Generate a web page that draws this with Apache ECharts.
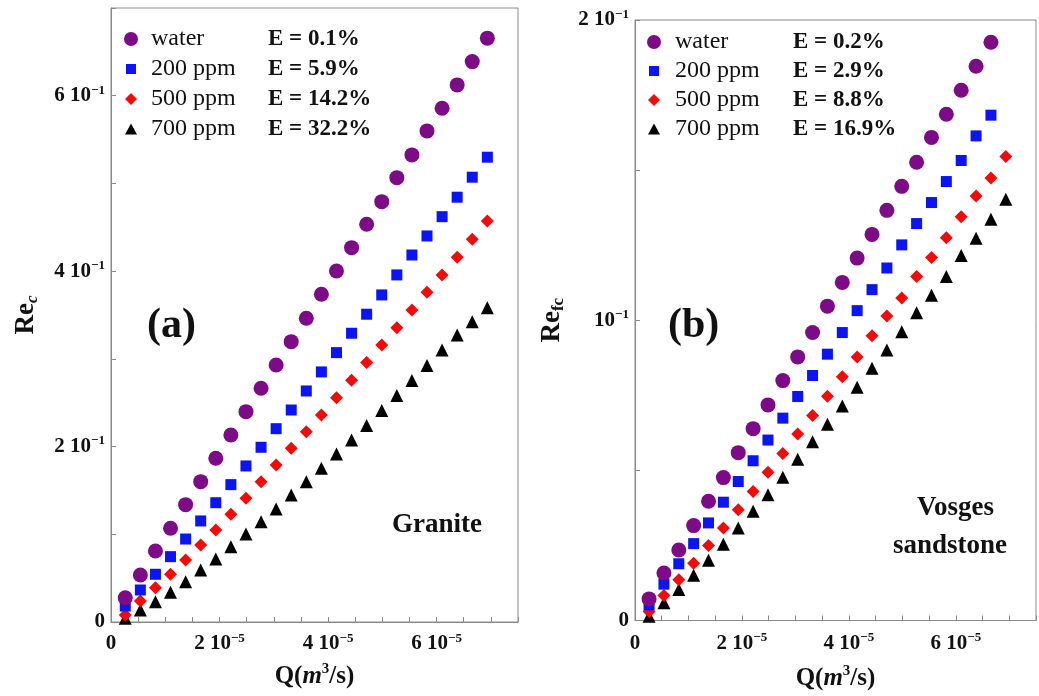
<!DOCTYPE html>
<html>
<head>
<meta charset="utf-8">
<script src="https://cdn.jsdelivr.net/npm/echarts@6/dist/echarts.min.js"></script>
<style>html,body{margin:0;padding:0;background:#fff}#c{width:1039px;height:696px}</style>
</head>
<body>
<div id="c"></div>
<script>
// Flow rate Q (m^3/s)
const Q = [2.63e-6, 5.41e-6, 8.19e-6, 1.097e-5, 1.375e-5, 1.653e-5, 1.931e-5, 2.209e-5, 2.487e-5, 2.765e-5,
  3.043e-5, 3.321e-5, 3.599e-5, 3.877e-5, 4.155e-5, 4.433e-5, 4.711e-5, 4.989e-5, 5.267e-5, 5.545e-5,
  5.823e-5, 6.101e-5, 6.379e-5, 6.657e-5, 6.935e-5];

const seriesNames = ['water', '200 ppm', '500 ppm', '700 ppm'];
const effA = ['E = 0.1%', 'E = 5.9%', 'E = 14.2%', 'E = 32.2%'];
const effB = ['E = 0.2%', 'E = 2.9%', 'E = 8.8%', 'E = 16.9%'];

// (a) Granite, Re_c
const waterA = [0.0277, 0.0536, 0.0810, 0.1068, 0.1338, 0.1600, 0.1867, 0.2132, 0.2398, 0.2665, 0.2930, 0.3196,
  0.3463, 0.3737, 0.4002, 0.4268, 0.4535, 0.4792, 0.5066, 0.5325, 0.5599, 0.5857, 0.6123, 0.6389, 0.6656];
const ppm200A = [0.0182, 0.0365, 0.0544, 0.0745, 0.0946, 0.1152, 0.1360, 0.1566, 0.1779, 0.1992, 0.2204, 0.2417,
  0.2634, 0.2851, 0.3071, 0.3292, 0.3509, 0.3729, 0.3957, 0.4184, 0.4401, 0.4621, 0.4843, 0.5071, 0.5299];
const ppm500A = [0.0080, 0.0239, 0.0391, 0.0544, 0.0707, 0.0878, 0.1049, 0.1228, 0.1411, 0.1600, 0.1790, 0.1981,
  0.2170, 0.2360, 0.2558, 0.2757, 0.2959, 0.3159, 0.3356, 0.3558, 0.3759, 0.3957, 0.4159, 0.4364, 0.4572];
const ppm700A = [0.0042, 0.0137, 0.0231, 0.0339, 0.0460, 0.0593, 0.0718, 0.0859, 0.1003, 0.1144, 0.1288, 0.1448,
  0.1600, 0.1753, 0.1916, 0.2075, 0.2241, 0.2412, 0.2583, 0.2754, 0.2925, 0.3101, 0.3273, 0.3424, 0.3584];

// (b) Vosges sandstone, Re_fc
const waterB = [0.0072, 0.0158, 0.0235, 0.0316, 0.0397, 0.0476, 0.0559, 0.0639, 0.0718, 0.0799, 0.0878, 0.0959,
  0.1047, 0.1126, 0.1207, 0.1286, 0.1366, 0.1446, 0.1526, 0.1609, 0.1686, 0.1766, 0.1846, 0.1926];
const ppm200B = [0.0052, 0.0121, 0.0189, 0.0256, 0.0325, 0.0394, 0.0463, 0.0532, 0.0601, 0.0674, 0.0746, 0.0816,
  0.0887, 0.0959, 0.1032, 0.1102, 0.1174, 0.1251, 0.1322, 0.1392, 0.1462, 0.1532, 0.1614, 0.1683];
const ppm500B = [0.0030, 0.0083, 0.0136, 0.0191, 0.0250, 0.0308, 0.0369, 0.0430, 0.0494, 0.0556, 0.0621, 0.0683,
  0.0747, 0.0812, 0.0878, 0.0948, 0.1014, 0.1074, 0.1146, 0.1209, 0.1275, 0.1345, 0.1414, 0.1474, 0.1545];
const ppm700B = [0.0014, 0.0059, 0.0103, 0.0151, 0.0201, 0.0254, 0.0308, 0.0364, 0.0419, 0.0477, 0.0537, 0.0595,
  0.0654, 0.0714, 0.0777, 0.0840, 0.0901, 0.0962, 0.1025, 0.1083, 0.1146, 0.1216, 0.1273, 0.1336, 0.1403];

// tick labels
const xTickVals = [0, 2e-5, 4e-5, 6e-5];
const xTickText = ['0', '2 10', '4 10', '6 10'];
const xTickExp = ['', '−5', '−5', '−5'];
const yTickValsA = [0, 0.2, 0.4, 0.6];
const yTickTextA = ['0', '2 10', '4 10', '6 10'];
const yTickExpA = ['', '−1', '−1', '−1'];
const yTickValsB = [0, 0.1, 0.2];
const yTickTextB = ['0', '10', '2 10'];
const yTickExpB = ['', '−1', '−1'];

const colors = ['#7d0a86', '#0a14f5', '#f50a0a', '#000000'];
const symbols = ['circle', 'rect', 'diamond', 'triangle'];
const sizes = [15, 11, 13, 13];
// legend icons (padded inside a 14x14 box so the glyphs get their own sizes)
const legendIcons = ['circle',
  'path://M0 0M14 14M2 2L12 2L12 12L2 12Z',
  'path://M0 0M14 14M7 1L13 7L7 13L1 7Z',
  'path://M0 0M14 14M7 1.5L13 12.5L1 12.5Z'];

const FONT = '"Liberation Serif", "Times New Roman", serif';
const richLab = {
  n: {fontFamily: FONT, fontWeight: 'bold', fontSize: 21, color: '#111', lineHeight: 24},
  s: {fontFamily: FONT, fontWeight: 'bold', fontSize: 13, color: '#111', lineHeight: 12, verticalAlign: 'top'}
};
function makeLab(vals, texts, exps, tol) {
  return function (v) {
    for (let i = 0; i < vals.length; i++) {
      if (Math.abs(v - vals[i]) < tol) {
        return exps[i] ? '{n|' + texts[i] + '}{s|' + exps[i] + '}' : '{n|' + texts[i] + '}';
      }
    }
    return '';
  };
}
const xLab = makeLab(xTickVals, xTickText, xTickExp, 1e-8);
const yLabA = makeLab(yTickValsA, yTickTextA, yTickExpA, 1e-6);
const yLabB = makeLab(yTickValsB, yTickTextB, yTickExpB, 1e-6);

const axisCommon = {
  axisLine: {show: true, lineStyle: {color: '#8a8a8a', width: 1}},
  axisTick: {show: true, inside: true, length: 5, lineStyle: {color: '#8a8a8a'}},
  splitLine: {show: false},
  axisLabel: {rich: richLab, color: '#111', showMinLabel: true, showMaxLabel: true}
};

function mk(vals, idx, gi) {
  return {
    name: seriesNames[idx], type: 'scatter', xAxisIndex: gi, yAxisIndex: gi,
    symbol: symbols[idx], symbolSize: sizes[idx],
    itemStyle: {color: colors[idx], opacity: 1},
    data: vals.map((v, i) => [Q[i], v]), z: 10 - idx
  };
}

const xName = '{b|Q(}{i|m}{s|3}{b|/s)}';
const xNameRich = {
  b: {fontFamily: FONT, fontWeight: 'bold', fontSize: 25, color: '#111', lineHeight: 30},
  i: {fontFamily: FONT, fontWeight: 'bold', fontStyle: 'italic', fontSize: 25, color: '#111', lineHeight: 30},
  s: {fontFamily: FONT, fontWeight: 'bold', fontSize: 15, color: '#111', lineHeight: 14, verticalAlign: 'top'}
};
const yNameRich = {
  r: {fontFamily: FONT, fontWeight: 'bold', fontSize: 27, color: '#111', lineHeight: 30},
  c: {fontFamily: FONT, fontWeight: 'bold', fontStyle: 'italic', fontSize: 17, color: '#111', lineHeight: 14, verticalAlign: 'bottom'},
  f: {fontFamily: FONT, fontWeight: 'bold', fontSize: 17, color: '#111', lineHeight: 14, verticalAlign: 'bottom'}
};

function legendRich(p, w) {
  return {
    p: {width: p},
    n: {fontFamily: FONT, fontSize: 24, color: '#111', width: w, lineHeight: 26},
    e: {fontFamily: FONT, fontWeight: 'bold', fontSize: 23, color: '#111', lineHeight: 26}
  };
}
const legendData = seriesNames.map((n, i) => ({name: n, icon: legendIcons[i]}));

const option = {
  backgroundColor: '#fff',
  animation: false,
  grid: [
    {left: 111, top: 8, width: 407, height: 614, show: true, borderColor: '#8a8a8a', borderWidth: 1, backgroundColor: 'transparent'},
    {left: 635, top: 20, width: 406, height: 605, show: true, borderColor: '#8a8a8a', borderWidth: 1, backgroundColor: 'transparent'}
  ],
  xAxis: [
    Object.assign({}, axisCommon, {gridIndex: 0, type: 'value', min: 0, max: 7.5e-5, interval: 5e-6,
      axisLabel: Object.assign({}, axisCommon.axisLabel, {formatter: xLab, margin: 10}),
      name: xName, nameLocation: 'middle', nameGap: 40, nameTextStyle: {rich: xNameRich}}),
    Object.assign({}, axisCommon, {gridIndex: 1, type: 'value', min: 0, max: 7.5e-5, interval: 5e-6,
      axisLabel: Object.assign({}, axisCommon.axisLabel, {formatter: xLab, margin: 11}),
      name: xName, nameLocation: 'middle', nameGap: 43, nameTextStyle: {rich: xNameRich}})
  ],
  yAxis: [
    Object.assign({}, axisCommon, {gridIndex: 0, type: 'value', min: 0, max: 0.7, interval: 0.1,
      axisLabel: Object.assign({}, axisCommon.axisLabel, {formatter: yLabA, margin: 6}),
      name: '{r|Re}{c|c}', nameLocation: 'middle', nameGap: 70, nameTextStyle: {rich: yNameRich}}),
    Object.assign({}, axisCommon, {gridIndex: 1, type: 'value', min: 0, max: 0.2, interval: 0.05,
      axisLabel: Object.assign({}, axisCommon.axisLabel, {formatter: yLabB, margin: 6}),
      name: '{r|Re}{f|fc}', nameLocation: 'middle', nameGap: 68, nameTextStyle: {rich: yNameRich}})
  ],
  legend: [
    {left: 119, top: 22, orient: 'vertical', itemGap: 6, itemWidth: 14, itemHeight: 14,
      data: legendData, selectedMode: false,
      formatter: n => '{p|}{n|' + n + '}{e|' + effA[seriesNames.indexOf(n)] + '}',
      textStyle: {rich: legendRich(8, 117)}},
    {left: 642, top: 25, orient: 'vertical', itemGap: 5, itemWidth: 14, itemHeight: 14,
      data: legendData, selectedMode: false,
      formatter: n => '{p|}{n|' + n + '}{e|' + effB[seriesNames.indexOf(n)] + '}',
      textStyle: {rich: legendRich(9, 118)}}
  ],
  graphic: [
    {type: 'text', left: 147, top: 305, style: {text: '(a)', font: 'bold 42px ' + FONT, fill: '#111'}},
    {type: 'text', left: 392, top: 512, style: {text: 'Granite', font: 'bold 27px ' + FONT, fill: '#111'}},
    {type: 'text', left: 668, top: 305, style: {text: '(b)', font: 'bold 42px ' + FONT, fill: '#111'}},
    {type: 'text', left: 917, top: 495, style: {text: 'Vosges', font: 'bold 27px ' + FONT, fill: '#111'}},
    {type: 'text', left: 893, top: 533, style: {text: 'sandstone', font: 'bold 27px ' + FONT, fill: '#111'}}
  ],
  series: [
    mk(waterA, 0, 0), mk(ppm200A, 1, 0), mk(ppm500A, 2, 0), mk(ppm700A, 3, 0),
    mk(waterB, 0, 1), mk(ppm200B, 1, 1), mk(ppm500B, 2, 1), mk(ppm700B, 3, 1)
  ]
};

const chart = echarts.init(document.getElementById('c'), null, {renderer: 'canvas'});
chart.setOption(option);
</script>
</body>
</html>
